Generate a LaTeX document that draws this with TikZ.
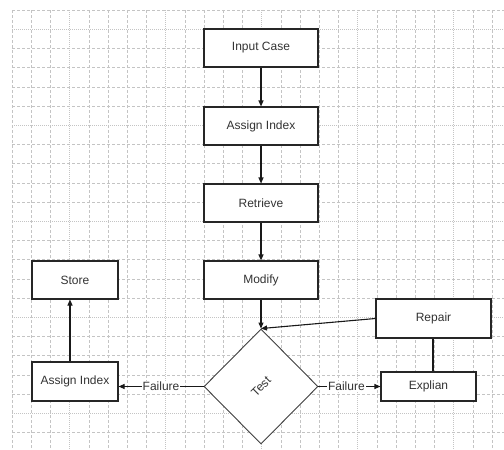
\documentclass[tikz,border=0pt]{standalone}
\usepackage{fontspec}
\setmainfont{Liberation Sans}
\usetikzlibrary{arrows.meta,shapes.geometric}
\definecolor{gridc}{HTML}{C4C4C4}
\definecolor{txt}{HTML}{333333}
\tikzset{
  gridline/.style={draw=gridc,line width=0.6pt,dash pattern=on 3pt off 2pt},
  gridmajor/.style={draw=gridc,line width=0.6pt,dash pattern=on 1pt off 1pt},
  box/.style={draw=black!85,line width=1.1pt,fill=white,rectangle,inner sep=0pt,
     text=txt,font=\fontsize{12}{14}\selectfont},
  dec/.style={draw=black!75,line width=0.9pt,fill=white,diamond,inner sep=0pt,
     minimum width=114pt,minimum height=115pt,text=txt,font=\fontsize{12}{14}\selectfont},
  conn/.style={draw=black!90,line width=1.1pt,-{Triangle[length=6pt,width=5pt]}},
  plain/.style={draw=black!90,line width=1.1pt},
  lbl/.style={fill=white,inner sep=1pt,text=txt,font=\fontsize{12}{14}\selectfont}
}
\begin{document}
\begin{tikzpicture}[x=1pt,y=-1pt]
\useasboundingbox (0,0) rectangle (504,450);
\fill[white] (0,0) rectangle (504,450);
% grid
\foreach \i in {0,...,25}{
  \pgfmathtruncatemacro{\m}{mod(\i,5)}
  \ifnum\m=3
    \draw[gridmajor] (12+19.2*\i,10) -- (12+19.2*\i,450);
  \else
    \draw[gridline] (12+19.2*\i,10) -- (12+19.2*\i,450);
  \fi
}
\foreach \j in {0,...,22}{
  \pgfmathtruncatemacro{\m}{mod(\j,5)}
  \ifnum\m=1
    \draw[gridmajor] (12,10+19.2*\j) -- (504,10+19.2*\j);
  \else
    \draw[gridline] (12,10+19.2*\j) -- (504,10+19.2*\j);
  \fi
}
% nodes
\node[box,minimum width=114pt,minimum height=38pt] (input) at (261,48) {Input Case};
\node[box,minimum width=114pt,minimum height=38pt] (ai1) at (261,126) {Assign Index};
\node[box,minimum width=114pt,minimum height=38pt] (retr) at (261,203) {Retrieve};
\node[box,minimum width=114pt,minimum height=38pt] (mod) at (261,280) {Modify};
\node[box,minimum width=86pt,minimum height=38pt] (store) at (75,280) {Store};
\node[box,minimum width=115pt,minimum height=39pt] (repair) at (433.5,318.5) {Repair};
\node[box,minimum width=95pt,minimum height=29pt] (expl) at (428.5,386.5) {Explian};
\node[box,minimum width=86pt,minimum height=39pt] (ai2) at (75,381.5) {Assign Index};
\node[dec] (test) at (261,386.5) {\rotatebox{45}{Test}};
% connectors
\draw[conn] (input) -- (ai1);
\draw[conn] (ai1) -- (retr);
\draw[conn] (retr) -- (mod);
\draw[conn] (mod) -- (test.north);
\draw[conn] (repair.west) -- (test.north);
\draw[plain] (repair.south -| expl.north) ++(4.5,0) coordinate (rb) -- (rb |- expl.north);
\draw[conn] (test.west) -- node[lbl,pos=0.5] {Failure} (test.west -| ai2.east);
\draw[conn] (test.east) -- node[lbl,pos=0.45] {Failure} (test.east -| expl.west);
\coordinate (aitop) at ([xshift=-5pt]ai2.north);
\draw[conn] (aitop) -- (aitop |- store.south);
\end{tikzpicture}
\end{document}
